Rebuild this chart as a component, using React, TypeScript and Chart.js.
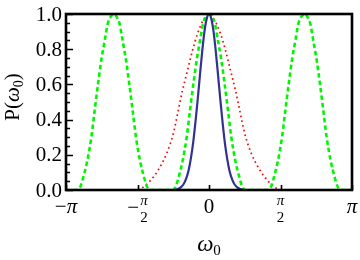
import React, { useEffect, useRef } from "react";
import { Chart, registerables } from "chart.js";

Chart.register(...registerables);

const SERIF = '"Liberation Serif", "DejaVu Serif", "Times New Roman", serif';

// ---- data ----
const blueX = [-3.1416, -0.75, -0.7, -0.65, -0.6, -0.55, -0.5, -0.45, -0.4, -0.35, -0.3, -0.25, -0.2, -0.15, -0.1, -0.05, 0, 0.05, 0.1, 0.15, 0.2, 0.25, 0.3, 0.35, 0.4, 0.45, 0.5, 0.55, 0.6, 0.65, 0.7, 0.75, 3.1416];
const blueY = [0, 0, 0.004, 0.01, 0.02, 0.037, 0.066, 0.11, 0.177, 0.265, 0.38, 0.51, 0.65, 0.785, 0.9, 0.973, 1, 0.973, 0.9, 0.785, 0.65, 0.51, 0.38, 0.265, 0.177, 0.11, 0.066, 0.037, 0.02, 0.01, 0.004, 0, 0];

const redX = [-3.1416, -1.56, -1.48, -1.3, -1.115, -0.93, -0.783, -0.673, -0.58, -0.47, -0.36, -0.25, -0.1, 0, 0.1, 0.25, 0.36, 0.47, 0.58, 0.673, 0.783, 0.93, 1.115, 1.3, 1.48, 1.56, 3.1416];
const redY = [0, 0, 0.01, 0.05, 0.114, 0.208, 0.322, 0.455, 0.568, 0.682, 0.795, 0.89, 0.976, 1, 0.976, 0.89, 0.795, 0.682, 0.568, 0.455, 0.322, 0.208, 0.114, 0.05, 0.01, 0, 0];

const greenX = [
  -3.1416,
  -2.8944, -2.8244, -2.7644, -2.6744, -2.5844, -2.5104, -2.4374, -2.3644, -2.2894, -2.2244, -2.1644, -2.0944,
  -2.0244, -1.9644, -1.8994, -1.8244, -1.7514, -1.6784, -1.6044, -1.5144, -1.4244, -1.3644, -1.2944,
  -0.8, -0.73, -0.67, -0.58, -0.49, -0.416, -0.343, -0.27, -0.195, -0.13, -0.07, 0,
  0.07, 0.13, 0.195, 0.27, 0.343, 0.416, 0.49, 0.58, 0.67, 0.73, 0.8,
  1.2944, 1.3644, 1.4244, 1.5144, 1.6044, 1.6784, 1.7514, 1.8244, 1.8994, 1.9644, 2.0244, 2.0944,
  2.1644, 2.2244, 2.2894, 2.3644, 2.4374, 2.5104, 2.5844, 2.6744, 2.7644, 2.8244, 2.8944,
  3.1416,
];
const greenY = [
  0,
  0, 0.02, 0.07, 0.165, 0.3, 0.455, 0.603, 0.74, 0.852, 0.945, 0.982, 1,
  0.982, 0.945, 0.852, 0.74, 0.603, 0.455, 0.3, 0.165, 0.07, 0.02, 0,
  0, 0.02, 0.07, 0.165, 0.3, 0.455, 0.603, 0.74, 0.852, 0.945, 0.982, 1,
  0.982, 0.945, 0.852, 0.74, 0.603, 0.455, 0.3, 0.165, 0.07, 0.02, 0,
  0, 0.02, 0.07, 0.165, 0.3, 0.455, 0.603, 0.74, 0.852, 0.945, 0.982, 1,
  0.982, 0.945, 0.852, 0.74, 0.603, 0.455, 0.3, 0.165, 0.07, 0.02, 0,
  0,
];

const yMajorTicks = [0, 0.2, 0.4, 0.6, 0.8, 1.0];
const yTickLabels = ["0.0", "0.2", "0.4", "0.6", "0.8", "1.0"];
const yMinorTicks = [0.05, 0.1, 0.15, 0.25, 0.3, 0.35, 0.45, 0.5, 0.55, 0.65, 0.7, 0.75, 0.85, 0.9, 0.95];
const xTicks = [-Math.PI, -Math.PI / 2, 0, Math.PI / 2, Math.PI];
const xTickLabels = ["−π", "−π/2", "0", "π/2", "π"];

const pts = (xs: number[], ys: number[]) => xs.map((x, i) => ({ x, y: ys[i] }));

type Run = { text: string; font: string; dy?: number };

function drawRuns(ctx: CanvasRenderingContext2D, runs: Run[], x: number, y: number, align: "center" | "left" = "center") {
  let total = 0;
  const widths = runs.map((r) => {
    ctx.font = r.font;
    const w = ctx.measureText(r.text).width;
    total += w;
    return w;
  });
  let cx = align === "center" ? x - total / 2 : x;
  ctx.textAlign = "left";
  runs.forEach((r, i) => {
    ctx.font = r.font;
    ctx.fillText(r.text, cx, y + (r.dy || 0));
    cx += widths[i];
  });
}

export default function App() {
  const ref = useRef<HTMLCanvasElement>(null);

  useEffect(() => {
    document.body.style.margin = "0";
    const canvas = ref.current;
    if (!canvas) return;

    const framePlugin = {
      id: "mmaFrame",
      afterDraw(chart: any) {
        const { ctx, chartArea: a, scales } = chart;
        const xs = scales.x;
        const ys = scales.y;
        ctx.save();
        ctx.strokeStyle = "#000";
        ctx.fillStyle = "#000";
        ctx.lineCap = "butt";
        // minor y ticks
        ctx.lineWidth = 1.3;
        ctx.beginPath();
        yMinorTicks.forEach((v) => {
          const py = Math.round(ys.getPixelForValue(v)) + 0.5;
          ctx.moveTo(a.left, py);
          ctx.lineTo(a.left + 4, py);
        });
        ctx.stroke();
        // major y ticks
        ctx.lineWidth = 1.6;
        ctx.beginPath();
        yMajorTicks.forEach((v) => {
          const py = Math.round(ys.getPixelForValue(v)) + 0.5;
          ctx.moveTo(a.left, py);
          ctx.lineTo(a.left + 7, py);
        });
        ctx.stroke();
        // x ticks
        ctx.beginPath();
        xTicks.forEach((v) => {
          const px = Math.round(xs.getPixelForValue(v)) + 0.5;
          ctx.moveTo(px, a.bottom);
          ctx.lineTo(px, a.bottom - 5);
        });
        ctx.stroke();
        // frame
        ctx.lineWidth = 2.6;
        ctx.strokeRect(a.left, a.top, a.right - a.left, a.bottom - a.top);

        // y tick labels
        ctx.font = `21px ${SERIF}`;
        ctx.textAlign = "right";
        ctx.textBaseline = "middle";
        yMajorTicks.forEach((v, i) => {
          ctx.fillText(yTickLabels[i], a.left - 4, ys.getPixelForValue(v) + 1);
        });

        // x tick labels
        ctx.textBaseline = "alphabetic";
        const big = `21px ${SERIF}`;
        const bigIt = `italic 21px ${SERIF}`;
        const small = `15px ${SERIF}`;
        const smallIt = `italic 15px ${SERIF}`;
        xTicks.forEach((v, i) => {
          const px = xs.getPixelForValue(v);
          const lab = xTickLabels[i];
          const base = a.bottom + 23;
          if (lab.includes("/")) {
            const neg = lab.startsWith("−");
            const [num, den] = lab.replace("−", "").split("/");
            ctx.font = smallIt;
            const nw = ctx.measureText(num).width;
            ctx.font = small;
            const dw = ctx.measureText(den).width;
            const fw = Math.max(nw, dw);
            ctx.font = big;
            const mw = neg ? ctx.measureText("−").width + 1 : 0;
            const total = mw + fw;
            const left = px - total / 2;
            if (neg) {
              ctx.font = big;
              ctx.textAlign = "left";
              ctx.fillText("−", left, a.bottom + 24);
            }
            const fc = left + mw + fw / 2;
            ctx.textAlign = "center";
            ctx.font = smallIt;
            ctx.fillText(num, fc, a.bottom + 15);
            ctx.font = small;
            ctx.fillText(den, fc, a.bottom + 32);
          } else if (lab === "0") {
            ctx.font = big;
            ctx.textAlign = "center";
            ctx.fillText(lab, px, base);
          } else {
            const runs: Run[] = [];
            if (lab.startsWith("−")) runs.push({ text: "−", font: big });
            runs.push({ text: "π", font: bigIt });
            drawRuns(ctx, runs, px, base);
          }
        });

        // x axis title
        drawRuns(
          ctx,
          [
            { text: "ω", font: `italic 23px ${SERIF}` },
            { text: "0", font: `15px ${SERIF}`, dy: 4 },
          ],
          (a.left + a.right) / 2,
          a.bottom + 61
        );

        // y axis title (rotated)
        ctx.save();
        ctx.translate(19, 97);
        ctx.rotate(-Math.PI / 2);
        drawRuns(
          ctx,
          [
            { text: "P(", font: `21px ${SERIF}` },
            { text: "ω", font: `italic 21px ${SERIF}` },
            { text: "0", font: `14px ${SERIF}`, dy: 4 },
            { text: ")", font: `21px ${SERIF}` },
          ],
          0,
          0
        );
        ctx.restore();
        ctx.restore();
      },
    };

    const chart = new Chart(canvas, {
      type: "line",
      data: {
        datasets: [
          {
            label: "blue",
            data: pts(blueX, blueY),
            borderColor: "rgb(50,50,145)",
            borderWidth: 2.2,
            pointRadius: 0,
            cubicInterpolationMode: "monotone",
            order: 0,
          },
          {
            label: "green",
            data: pts(greenX, greenY),
            borderColor: "rgb(0,245,0)",
            borderWidth: 2.6,
            borderDash: [4.5, 3],
            pointRadius: 0,
            cubicInterpolationMode: "monotone",
            order: 1,
          },
          {
            label: "red",
            data: pts(redX, redY),
            borderColor: "rgb(255,0,0)",
            borderWidth: 1.7,
            borderDash: [1.6, 3.2],
            pointRadius: 0,
            cubicInterpolationMode: "monotone",
            order: 2,
          },
        ],
      },
      options: {
        responsive: false,
        animation: false,
        devicePixelRatio: 1,
        layout: { padding: { left: 66, right: 8, top: 14, bottom: 70 } },
        plugins: { legend: { display: false }, tooltip: { enabled: false } },
        scales: {
          x: { type: "linear", min: -Math.PI, max: Math.PI, display: false },
          y: { type: "linear", min: 0, max: 1, display: false },
        },
      },
      plugins: [framePlugin],
    } as any);

    return () => chart.destroy();
  }, []);

  return (
    <div style={{ width: 360, height: 260, background: "#fff" }}>
      <canvas ref={ref} width={360} height={260} />
    </div>
  );
}
